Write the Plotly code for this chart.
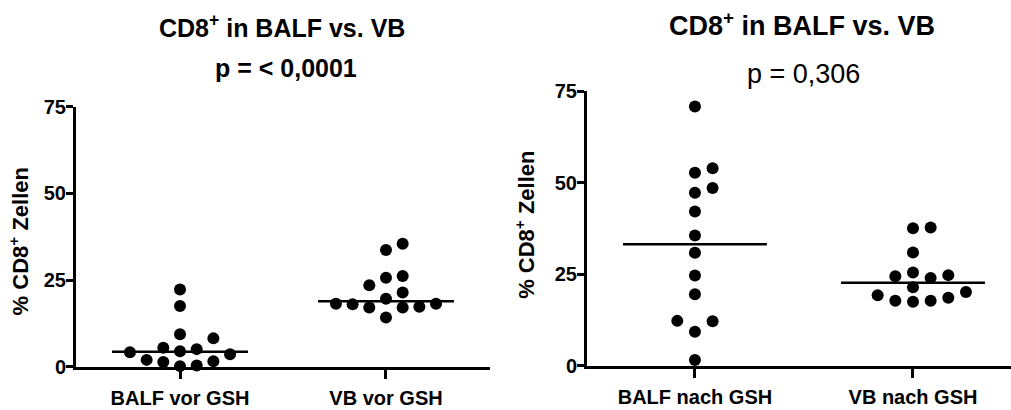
import numpy as np
import plotly.graph_objects as go

# ---------------- data ----------------
left_categories = ["BALF vor GSH", "VB vor GSH"]
right_categories = ["BALF nach GSH", "VB nach GSH"]

balf_vor = [22.3, 17.5, 9.4, 8.2, 5.5, 5.1, 4.5, 4.2, 3.6, 2.0, 1.6, 1.4, 0.4, 0.2]
vb_vor = [35.5, 33.7, 26.2, 25.7, 23.5, 21.4, 19.6, 18.2, 18.2, 18.0, 17.3, 17.1, 17.1, 14.2]
balf_nach = [70.9, 54.0, 52.8, 48.6, 47.3, 42.2, 35.6, 30.9, 24.7, 19.6, 12.3, 12.2, 9.3, 1.6]
vb_nach = [37.8, 37.6, 31.0, 25.5, 24.8, 24.5, 24.0, 21.5, 20.2, 19.3, 18.6, 17.8, 17.8, 17.5]

y_ticks = [0, 25, 50, 75]
title_text = "CD8<sup>+</sup> in BALF vs. VB"
p_left = "p = < 0,0001"
p_right = "p = 0,306"
y_title = "% CD8<sup>+</sup> Zellen"

# ---------------- layout geometry (pixels) ----------------
W, H = 1011, 410
FONT = "Liberation Sans"

panels = [
    dict(x0=76, x1=490, ytop=101, ybot=376, xr=(-0.505, 1.505),
         cats=left_categories, groups=[balf_vor, vb_vor]),
    dict(x0=587, x1=1011, ytop=85, ybot=375, xr=(-0.495, 1.4495),
         cats=right_categories, groups=[balf_nach, vb_nach]),
]
YMAX = 75
SLOT = 0.081        # horizontal step between neighbouring dots (category units)
MIN_DIST = 15.0     # minimum distance between dot centres (px)
HALF_LINE = 0.33    # half width of the median line (category units)


def swarm_offsets(values, ppu_x, ppu_y):
    """Column-scatter layout: place points (ascending) in the nearest free slot."""
    vals = np.asarray(values, dtype=float)
    order = np.argsort(vals, kind="stable")
    placed = []
    offs = np.zeros(len(vals))
    slot_px = SLOT * ppu_x
    for i in order:
        y = vals[i] * ppu_y
        for k in range(0, 20):
            cands = [0] if k == 0 else [k, -k]
            ok_slot = None
            for s in cands:
                x = s * slot_px
                if all((x - px) ** 2 + (y - py) ** 2 >= MIN_DIST ** 2 - 1e-6 for px, py in placed):
                    ok_slot = s
                    break
            if ok_slot is not None:
                break
        placed.append((ok_slot * slot_px, y))
        offs[i] = ok_slot * SLOT
    return offs


fig = go.Figure()
layout_axes = {}
annotations = []

for n, p in enumerate(panels):
    xa = "x" if n == 0 else "x2"
    ya = "y" if n == 0 else "y2"
    ppu_x = (p["x1"] - p["x0"]) / (p["xr"][1] - p["xr"][0])
    ppu_y = (p["ybot"] - p["ytop"]) / YMAX
    for ci, vals in enumerate(p["groups"]):
        offs = swarm_offsets(vals, ppu_x, ppu_y)
        fig.add_trace(go.Scatter(
            x=ci + offs, y=vals, mode="markers", xaxis=xa, yaxis=ya,
            marker=dict(color="black", size=12, line=dict(width=0)),
            cliponaxis=False, showlegend=False, hoverinfo="y"))
        med = float(np.median(vals))
        fig.add_trace(go.Scatter(
            x=[ci - HALF_LINE, ci + HALF_LINE], y=[med, med], mode="lines",
            xaxis=xa, yaxis=ya, line=dict(color="black", width=2.5),
            cliponaxis=False, showlegend=False, hoverinfo="skip"))

    suffix = "" if n == 0 else "2"
    layout_axes["xaxis" + suffix] = dict(
        domain=[p["x0"] / W, min(p["x1"] / W, 1.0)], range=list(p["xr"]),
        anchor=ya, showline=True, linewidth=3, linecolor="black",
        ticks="outside", ticklen=9, tickwidth=3, tickcolor="black",
        tickvals=[0, 1], ticktext=["<b>%s</b>" % c for c in p["cats"]],
        showgrid=False, zeroline=False, ticklabelstandoff=2,
        tickfont=dict(family=FONT, size=20, color="black"),
        fixedrange=True)
    layout_axes["yaxis" + suffix] = dict(
        domain=[1 - p["ybot"] / H, 1 - p["ytop"] / H], range=[0, YMAX],
        anchor=xa, showline=True, linewidth=3, linecolor="black",
        ticks="outside", ticklen=7, tickwidth=3, tickcolor="black",
        tickvals=y_ticks, ticktext=["<b>%d</b>" % t for t in y_ticks],
        showgrid=False, zeroline=False, ticklabelstandoff=-4,
        tickfont=dict(family=FONT, size=20, color="black"),
        fixedrange=True)

# titles / p-values / y-axis titles as annotations (pixel positions -> paper)
def ann(text, xpx, ypx, size, bold=True, angle=0):
    annotations.append(dict(
        text="<b>%s</b>" % text if bold else text,
        x=xpx / W, y=1 - ypx / H, xref="paper", yref="paper",
        xanchor="center", yanchor="middle", showarrow=False, textangle=angle,
        font=dict(family=FONT, size=size, color="black")))

ann(title_text, 282, 16, 25)
ann(p_left, 286, 60, 25)
ann(title_text, 802, 14, 27)
ann(p_right, 803, 67, 27, bold=False)
ann(y_title, 18.5, 244, 22, angle=-90)
ann(y_title, 525, 226, 22, angle=-90)

fig.update_layout(
    width=W, height=H, margin=dict(l=0, r=0, t=0, b=0),
    paper_bgcolor="white", plot_bgcolor="white",
    annotations=annotations, **layout_axes)

fig.write_html("out.html")
